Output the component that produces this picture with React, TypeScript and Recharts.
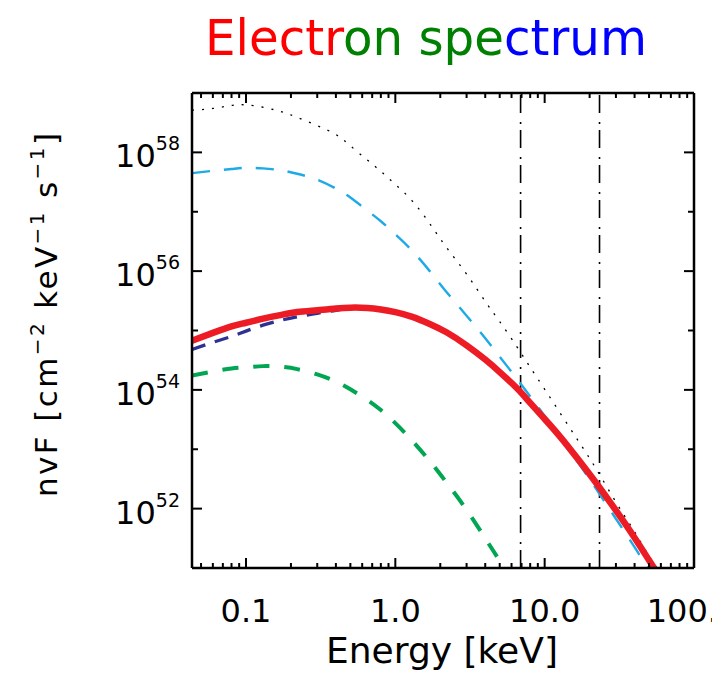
import React from "react";
import {
  LineChart,
  Line,
  XAxis,
  YAxis,
  ReferenceLine,
} from "recharts";

// energy grid [keV] and log10(nuF)
const energies = [
  0.0435, 0.06, 0.08, 0.1, 0.13, 0.17, 0.22, 0.3, 0.4, 0.5, 0.65, 0.8, 1.0,
  1.3, 1.7, 2.2, 3, 4, 5, 6.5, 8, 10, 13, 17, 22, 30, 40, 50, 60,
];
const dottedLog = [
  58.71, 58.74, 58.79, 58.8, 58.76, 58.69, 58.59, 58.45, 58.3, 58.11, 57.87,
  57.68, 57.46, 57.18, 56.8, 56.4, 55.95, 55.49, 55.15, 54.73, 54.38, 54.01,
  53.57, 53.12, 52.68, 52.11, 51.61, 51.2, 50.92,
];
const lightBlueLog = [
  57.65, 57.69, 57.72, 57.74, 57.73, 57.7, 57.64, 57.54, 57.39, 57.24, 57.02,
  56.84, 56.62, 56.34, 56.0, 55.65, 55.25, 54.87, 54.56, 54.19, 53.89, 53.56,
  53.16, 52.75, 52.34, 51.83, 51.35, 50.97, 50.66,
];
const darkBlueLog = [
  54.68, 54.8, 54.9, 54.99, 55.09, 55.17, 55.23, 55.29, 55.34, 55.38, 55.38,
  55.355, 55.31, 55.23, 55.11, 54.97, 54.75, 54.51, 54.3, 54.03, 53.78, 53.51,
  53.18, 52.81, 52.44, 51.97, 51.51, 51.13, 50.82,
];
const redLog = [
  54.83, 54.96, 55.07, 55.13, 55.2, 55.26, 55.31, 55.34, 55.37, 55.385, 55.38,
  55.355, 55.31, 55.23, 55.11, 54.97, 54.75, 54.51, 54.3, 54.03, 53.78, 53.51,
  53.18, 52.81, 52.44, 51.97, 51.51, 51.13, 50.82,
];
const greenLog = [
  54.24, 54.31, 54.36, 54.38, 54.4, 54.39, 54.35, 54.26, 54.14, 54.01, 53.83,
  53.66, 53.44, 53.14, 52.8, 52.44, 51.98, 51.5, 51.12, 50.66, null, null, null,
  null, null, null, null, null, null,
];

const cutoffEnergies = [6.9, 23.3];

const xMajorTicks = [0.1, 1, 10, 100];
const xTickLabels = ["0.1", "1.0", "10.0", "100."];
const xMinorTicks = [
  0.05, 0.06, 0.07, 0.08, 0.09, 0.2, 0.3, 0.4, 0.5, 0.6, 0.7, 0.8, 0.9, 2, 3,
  4, 5, 6, 7, 8, 9, 20, 30, 40, 50, 60, 70, 80, 90,
];
const yMajorTicks = [1e52, 1e54, 1e56, 1e58];
const yTickLabels = ["52", "54", "56", "58"];
const yMinorTicks = [1e53, 1e55, 1e57];

const toFlux = (v: number | null) => (v == null ? null : Math.pow(10, v));

const data = energies.map((e, i) => ({
  e,
  dotted: toFlux(dottedLog[i]),
  lightBlue: toFlux(lightBlueLog[i]),
  darkBlue: toFlux(darkBlueLog[i]),
  red: toFlux(redLog[i]),
  green: toFlux(greenLog[i]),
}));

const xTicks = [...xMajorTicks, ...xMinorTicks].sort((a, b) => a - b);
const yTicks = [...yMajorTicks, ...yMinorTicks].sort((a, b) => a - b);

const FONT = "DejaVu Sans";
const W = 712;
const H = 675;

const BottomTick = (props: any) => {
  const { x, y, payload } = props;
  const idx = xMajorTicks.indexOf(payload.value);
  const major = idx >= 0;
  // the last label sits against the right edge of the page
  const last = idx === xMajorTicks.length - 1;
  return (
    <g>
      <line x1={x} x2={x} y1={y} y2={y - (major ? 10 : 5)} stroke="#000" strokeWidth={2} />
      {major && (
        <text
          x={last ? W - 2 : x}
          y={y + 54}
          textAnchor={last ? "end" : "middle"}
          fontSize={32}
          fontFamily={FONT}
          fill="#000"
        >
          {xTickLabels[idx]}
        </text>
      )}
    </g>
  );
};

const TopTick = (props: any) => {
  const { x, y, payload } = props;
  const major = xMajorTicks.includes(payload.value);
  return <line x1={x} x2={x} y1={y} y2={y + (major ? 10 : 5)} stroke="#000" strokeWidth={2} />;
};

const LeftTick = (props: any) => {
  const { x, y, payload } = props;
  const idx = yMajorTicks.indexOf(payload.value);
  const major = idx >= 0;
  return (
    <g>
      <line x1={x} x2={x + (major ? 10 : 6)} y1={y} y2={y} stroke="#000" strokeWidth={2} />
      {major && (
        <text x={x - 12} y={y + 15} textAnchor="end" fontSize={32} fontFamily={FONT} fill="#000">
          10
          <tspan dy={-17} fontSize={19}>
            {yTickLabels[idx]}
          </tspan>
        </text>
      )}
    </g>
  );
};

const RightTick = (props: any) => {
  const { x, y, payload } = props;
  const major = yMajorTicks.includes(payload.value);
  return <line x1={x} x2={x - (major ? 10 : 6)} y1={y} y2={y} stroke="#000" strokeWidth={2} />;
};

const axisLine = { stroke: "#000", strokeWidth: 2.5 };

export default function App() {
  return (
    <div style={{ position: "relative", width: W, height: H }}>
      <LineChart
        width={W}
        height={H}
        data={data}
        margin={{ top: 84, right: 25, bottom: 114, left: 183 }}
      >
        <XAxis
          xAxisId="bottom"
          dataKey="e"
          type="number"
          scale="log"
          domain={[0.0435, 100]}
          allowDataOverflow
          ticks={xTicks}
          interval={0}
          height={1}
          tickSize={0}
          tickMargin={0}
          tickLine={false}
          axisLine={axisLine}
          tick={<BottomTick />}
        />
        <XAxis
          xAxisId="top"
          orientation="top"
          dataKey="e"
          type="number"
          scale="log"
          domain={[0.0435, 100]}
          allowDataOverflow
          ticks={xTicks}
          interval={0}
          height={1}
          tickSize={0}
          tickMargin={0}
          tickLine={false}
          axisLine={axisLine}
          tick={<TopTick />}
        />
        <YAxis
          yAxisId="left"
          type="number"
          scale="log"
          domain={[1e51, 1e59]}
          allowDataOverflow
          ticks={yTicks}
          interval={0}
          width={1}
          tickSize={0}
          tickMargin={0}
          tickLine={false}
          axisLine={axisLine}
          tick={<LeftTick />}
        />
        <YAxis
          yAxisId="right"
          orientation="right"
          type="number"
          scale="log"
          domain={[1e51, 1e59]}
          allowDataOverflow
          ticks={yTicks}
          interval={0}
          width={1}
          tickSize={0}
          tickMargin={0}
          tickLine={false}
          axisLine={axisLine}
          tick={<RightTick />}
        />
        {cutoffEnergies.map((c) => (
          <ReferenceLine
            key={c}
            x={c}
            xAxisId="bottom"
            yAxisId="left"
            stroke="#000"
            strokeWidth={1.6}
            strokeDasharray="18 6 2 9"
          />
        ))}
        <Line
          xAxisId="bottom"
          yAxisId="left"
          dataKey="dotted"
          type="natural"
          stroke="#000"
          strokeWidth={1.3}
          strokeDasharray="2 8"
          dot={false}
          isAnimationActive={false}
        />
        <Line
          xAxisId="bottom"
          yAxisId="left"
          dataKey="lightBlue"
          type="natural"
          stroke="#1eaae6"
          strokeWidth={2.4}
          strokeDasharray="18 14"
          dot={false}
          isAnimationActive={false}
        />
        <Line
          xAxisId="bottom"
          yAxisId="left"
          dataKey="green"
          type="natural"
          stroke="#00a651"
          strokeWidth={4}
          strokeDasharray="16 15"
          dot={false}
          isAnimationActive={false}
        />
        <Line
          xAxisId="bottom"
          yAxisId="left"
          dataKey="darkBlue"
          type="natural"
          stroke="#2e3192"
          strokeWidth={3.3}
          strokeDasharray="14 10"
          dot={false}
          isAnimationActive={false}
        />
        <Line
          xAxisId="bottom"
          yAxisId="left"
          dataKey="red"
          type="natural"
          stroke="#ed1c24"
          strokeWidth={6.5}
          dot={false}
          isAnimationActive={false}
        />
      </LineChart>
      <svg
        width={W}
        height={H}
        style={{ position: "absolute", left: 0, top: 0, pointerEvents: "none" }}
      >
        <text
          x={197}
          y={47}
          fontSize={49}
          fontFamily={FONT}
          textLength={442}
          lengthAdjust="spacingAndGlyphs"
        >
          <tspan fill="#ff0000">Electr</tspan>
          <tspan fill="#008000">on spe</tspan>
          <tspan fill="#0000ff">ctrum</tspan>
        </text>
        <text x={434} y={655} textAnchor="middle" fontSize={36} fontFamily={FONT} fill="#000">
          Energy [keV]
        </text>
        <text
          x={49}
          y={307}
          textAnchor="middle"
          transform="rotate(-90 49 307)"
          fontSize={31}
          fontFamily={FONT}
          fill="#000"
          textLength={364}
          lengthAdjust="spacing"
        >
          {"nvF [cm"}
          <tspan dy={-13} fontSize={20}>−2</tspan>
          <tspan dy={13}>{" keV"}</tspan>
          <tspan dy={-13} fontSize={20}>−1</tspan>
          <tspan dy={13}>{" s"}</tspan>
          <tspan dy={-13} fontSize={20}>−1</tspan>
          <tspan dy={13}>]</tspan>
        </text>
      </svg>
    </div>
  );
}
